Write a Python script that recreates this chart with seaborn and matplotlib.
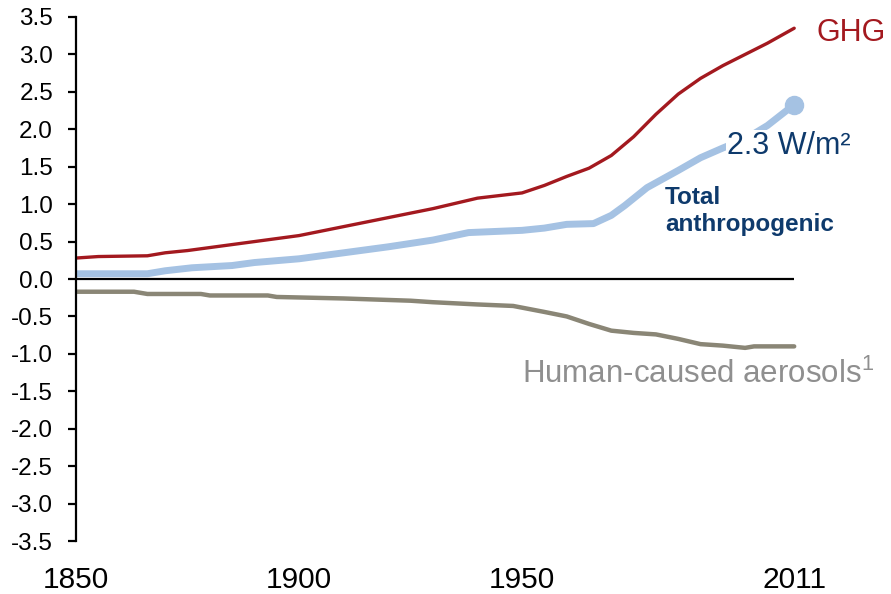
import pandas as pd
import matplotlib.pyplot as plt
import seaborn as sns

# GHG forcing (W/m2)
ghg_years = [1850, 1855, 1866, 1870, 1875, 1880, 1890, 1900, 1910, 1920, 1930, 1940,
             1950, 1955, 1960, 1965, 1970, 1975, 1980, 1985, 1990, 1995, 2000, 2005, 2011]
ghg_vals = [0.28, 0.30, 0.31, 0.35, 0.38, 0.42, 0.50, 0.58, 0.70, 0.82, 0.94, 1.08,
            1.15, 1.25, 1.37, 1.48, 1.65, 1.90, 2.20, 2.47, 2.68, 2.85, 3.00, 3.15, 3.35]

# total anthropogenic
tot_years = [1850, 1866, 1870, 1876, 1885, 1890, 1900, 1910, 1920, 1930, 1938, 1950,
             1955, 1960, 1966, 1970, 1973, 1978, 1985, 1990, 1995, 2000, 2005, 2011]
tot_vals = [0.07, 0.07, 0.11, 0.15, 0.18, 0.22, 0.27, 0.35, 0.43, 0.52, 0.62, 0.65,
            0.68, 0.73, 0.74, 0.85, 0.98, 1.22, 1.45, 1.62, 1.75, 1.87, 2.05, 2.33]

# human-caused aerosols
aer_years = [1850, 1863, 1866, 1878, 1880, 1893, 1895, 1910, 1925, 1930, 1940, 1948,
             1955, 1960, 1965, 1970, 1975, 1980, 1985, 1990, 1995, 2000, 2002, 2011]
aer_vals = [-0.17, -0.17, -0.20, -0.20, -0.22, -0.22, -0.24, -0.26, -0.29, -0.31, -0.34, -0.36,
            -0.44, -0.50, -0.60, -0.69, -0.72, -0.74, -0.80, -0.87, -0.89, -0.92, -0.90, -0.90]

y_ticks = [-3.5, -3.0, -2.5, -2.0, -1.5, -1.0, -0.5, 0.0, 0.5, 1.0, 1.5, 2.0, 2.5, 3.0, 3.5]
x_ticks = [1850, 1900, 1950, 2011]

sns.set_theme(style="white")
plt.rcParams['font.family'] = ['Liberation Sans', 'DejaVu Sans']
plt.rcParams['mathtext.fontset'] = 'custom'
plt.rcParams['mathtext.rm'] = 'Liberation Sans'

fig = plt.figure(figsize=(8.91, 5.94), dpi=100)
ax = fig.add_axes([0.0853, 0.0892, 0.9147, 0.8822])

red = '#A3191F'
blue = '#A5C2E3'
grey = '#8A8676'
navy = '#0E3A6C'

ax.hlines(0, x_ticks[0], x_ticks[-1], color='black', linewidth=1.6, zorder=1)

sns.lineplot(x='year', y='val', data=pd.DataFrame({'year': aer_years, 'val': aer_vals}),
             color=grey, linewidth=3.2, ax=ax, zorder=2)
sns.lineplot(x='year', y='val', data=pd.DataFrame({'year': ghg_years, 'val': ghg_vals}),
             color=red, linewidth=2.4, ax=ax, zorder=2)
sns.lineplot(x='year', y='val', data=pd.DataFrame({'year': tot_years, 'val': tot_vals}),
             color=blue, linewidth=5, ax=ax, zorder=3)
ax.plot(tot_years[-1:], tot_vals[-1:], 'o', color=blue, markersize=13, zorder=4)

ax.set_xlim(1850, 2032.7)
ax.set_ylim(-3.5, 3.5)
ax.set_yticks(y_ticks)
ax.set_yticklabels([f'{v:.1f}' for v in y_ticks])
ax.set_xticks(x_ticks)
ax.set_xticklabels([str(x) for x in x_ticks])
ax.set_xlabel('')
ax.set_ylabel('')

for s in ['top', 'right', 'bottom']:
    ax.spines[s].set_visible(False)
ax.spines['left'].set_color('black')
ax.spines['left'].set_linewidth(1.6)
ax.spines['left'].set_zorder(5)

ax.tick_params(axis='y', left=True, length=6, width=1.6, color='black',
               pad=10.5, labelsize=17.5, labelcolor='black')
ax.tick_params(axis='x', bottom=False, length=0, pad=18, labelsize=21.5, labelcolor='black')

ax.text(2016.1, 3.29, 'GHG', color=red, fontsize=22, va='center', ha='left', clip_on=False)
ax.text(1996, 1.77, '2.3 W/m²', color=navy, fontsize=22, va='center', ha='left', zorder=6,
        bbox=dict(facecolor='white', edgecolor='none', pad=1))
ax.text(1982, 0.91, 'Total\nanthropogenic', color=navy, fontsize=17.5, fontweight='bold',
        va='center', ha='left', linespacing=1.2)
ax.text(1950, -1.27, r'Human-caused aerosols$^{\mathrm{1}}$', color='#8F8F8F', fontsize=22.5,
        va='center', ha='left', clip_on=False)

plt.savefig('out.png', dpi=100)
